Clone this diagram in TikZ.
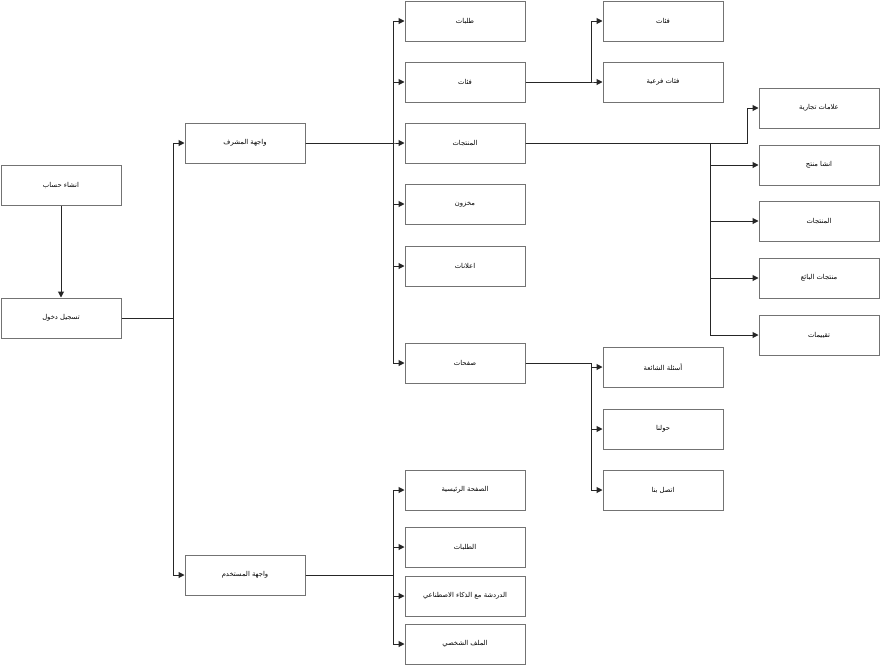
\documentclass[tikz,border=0pt]{standalone}
\usepackage{fontspec}
\newfontfamily\arabicfont[Script=Arabic]{DejaVu Sans}
\TeXXeTstate=1
\usetikzlibrary{arrows.meta}
\newcommand{\artext}[1]{{\arabicfont\beginR #1\endR}}
\begin{document}
\begin{tikzpicture}[x=1pt,y=-1pt,
  box/.style={draw=black!55,line width=1pt,fill=white,minimum width=120pt,minimum height=40pt,inner sep=0pt,font=\fontsize{6.8}{8}\selectfont},
  link/.style={draw=black!85,line width=1pt,-{Triangle[length=6pt,width=6pt]}}]
\useasboundingbox[fill=white] (0,0) rectangle (881,665);

% bus coordinates
\coordinate (b1) at (173,0);
\coordinate (b2) at (393,0);
\coordinate (b3) at (591,0);
\coordinate (b4) at (710,0);
\coordinate (b4b) at (747,0);

% nodes
\node[box] (create) at (61,185) {\artext{انشاء حساب}};
\node[box] (login) at (61,318) {\artext{تسجيل دخول}};
\node[box] (admin) at (245,143) {\artext{واجهة المشرف}};
\node[box] (user) at (245,575) {\artext{واجهة المستخدم}};

\node[box] (orders) at (465,21) {\artext{طلبات}};
\node[box] (cats) at (465,82) {\artext{فئات}};
\node[box] (prods) at (465,143) {\artext{المنتجات}};
\node[box] (stock) at (465,204) {\artext{مخزون}};
\node[box] (ads) at (465,266) {\artext{اعلانات}};
\node[box] (pages) at (465,363) {\artext{صفحات}};

\node[box] (cats2) at (663,21) {\artext{فئات}};
\node[box] (subcats) at (663,82) {\artext{فئات فرعية}};

\node[box] (brands) at (819,108) {\artext{علامات تجارية}};
\node[box] (newprod) at (819,165) {\artext{انشا منتج}};
\node[box] (prods2) at (819,221) {\artext{المنتجات}};
\node[box] (vendor) at (819,278) {\artext{منتجات البائع}};
\node[box] (reviews) at (819,335) {\artext{تقييمات}};

\node[box] (faq) at (663,367) {\artext{أسئلة الشائعة}};
\node[box] (about) at (663,429) {\artext{حولنا}};
\node[box] (contact) at (663,490) {\artext{اتصل بنا}};

\node[box] (home) at (465,490) {\artext{الصفحة الرئيسية}};
\node[box] (uorders) at (465,547) {\artext{الطلبات}};
\node[box] (chat) at (465,596) {\artext{الدردشة مع الذكاء الاصطناعي}};
\node[box] (profile) at (465,644) {\artext{الملف الشخصي}};

% connectors
\draw[link] (create) -- (login);

\draw[link] (login.east) -- (login.east -| b1) |- (admin.west);
\draw[link] (login.east) -- (login.east -| b1) |- (user.west);

\foreach \c in {orders,cats,prods,stock,ads,pages}
  \draw[link] (admin.east) -- (admin.east -| b2) |- (\c.west);

\foreach \c in {cats2,subcats}
  \draw[link] (cats.east) -- (cats.east -| b3) |- (\c.west);

\draw[link] (prods.east) -- (prods.east -| b4b) |- (brands.west);
\foreach \c in {newprod,prods2,vendor,reviews}
  \draw[link] (prods.east) -- (prods.east -| b4) |- (\c.west);

\foreach \c in {faq,about,contact}
  \draw[link] (pages.east) -- (pages.east -| b3) |- (\c.west);

\foreach \c in {home,uorders,chat,profile}
  \draw[link] (user.east) -- (user.east -| b2) |- (\c.west);
\end{tikzpicture}
\end{document}
